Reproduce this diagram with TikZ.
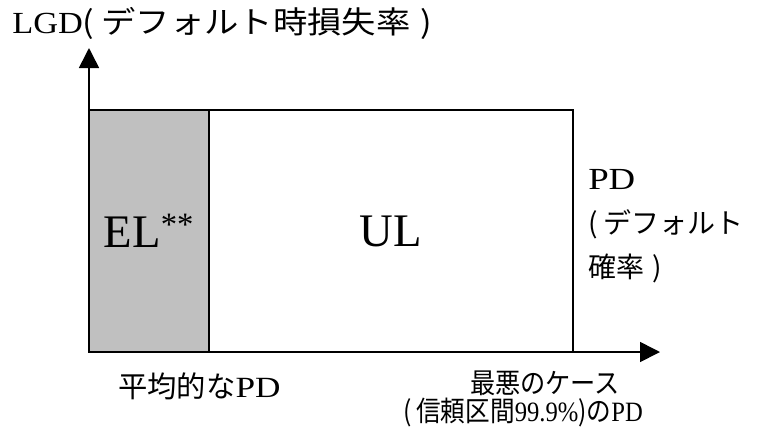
\documentclass[tikz,border=0pt]{standalone}
\usepackage{fontspec}
\usepackage{graphicx}
\setmainfont{Liberation Serif}
\newfontfamily\jp{Noto Sans CJK JP}
\usetikzlibrary{arrows.meta}
\definecolor{elgray}{HTML}{C0C0C0}
\newcommand{\wideL}[1]{\scalebox{1.2}[1]{#1}}
\newcommand{\lp}{{\jp (}\hspace{0.2em}}
\newcommand{\rp}{\hspace{0.3em}{\jp )}}
\begin{document}
\begin{tikzpicture}[x=0.75pt,y=-0.75pt,
  axis/.style={line width=1.2pt,-{Triangle[length=15pt,width=15pt]}},
  box/.style={draw,line width=1.2pt,outer sep=0pt,inner sep=0pt,anchor=south west,minimum height=181.5pt},
  big/.style={font=\fontsize{35}{40}\selectfont},
  lbl/.style={inner sep=0pt,font=\fontsize{21}{33}\selectfont},
  lblb/.style={inner sep=0pt,font=\fontsize{22}{33}\selectfont},
  lblt/.style={inner sep=0pt,font=\fontsize{23}{33}\selectfont}]
\useasboundingbox (0,0) rectangle (777,437);
\coordinate (O) at (89,352);
\coordinate (Ytip) at (89,48);
\coordinate (Xtip) at (660,352);
\node (el) [box,fill=elgray,minimum width=90pt,big] at (O) {EL\textsuperscript{**}};
\node (ul) [box,minimum width=273pt,big] at (el.south east) {UL};
\draw[axis] (O) -- (Ytip);
\draw[axis] (O) -- (Xtip);
\node (ylab) [lblt,anchor=south west] at (12,40) {\scalebox{1.12}[1]{LGD\lp{\jp デフォルト時損失率}\rp}};
\node (xlab) [lbl,anchor=north west,align=left] at (588,169) {{\fontsize{23}{23}\selectfont\wideL{PD}}\\\lp{\jp デフォルト}\\{\jp 確率}\rp};
\node (avg) [lblb,anchor=west] at (118,386) {{\jp 平均的な}\wideL{PD}};
\node (worst1) [lbl,anchor=center] at (545,383) {\scalebox{0.9}[1]{\jp 最悪のケース}};
\node (worst2) [lbl,anchor=center] at (523,412) {\scalebox{0.88}[1]{\lp{\jp 信頼区間}99.9\%{\jp )の}PD}};
\end{tikzpicture}
\end{document}
